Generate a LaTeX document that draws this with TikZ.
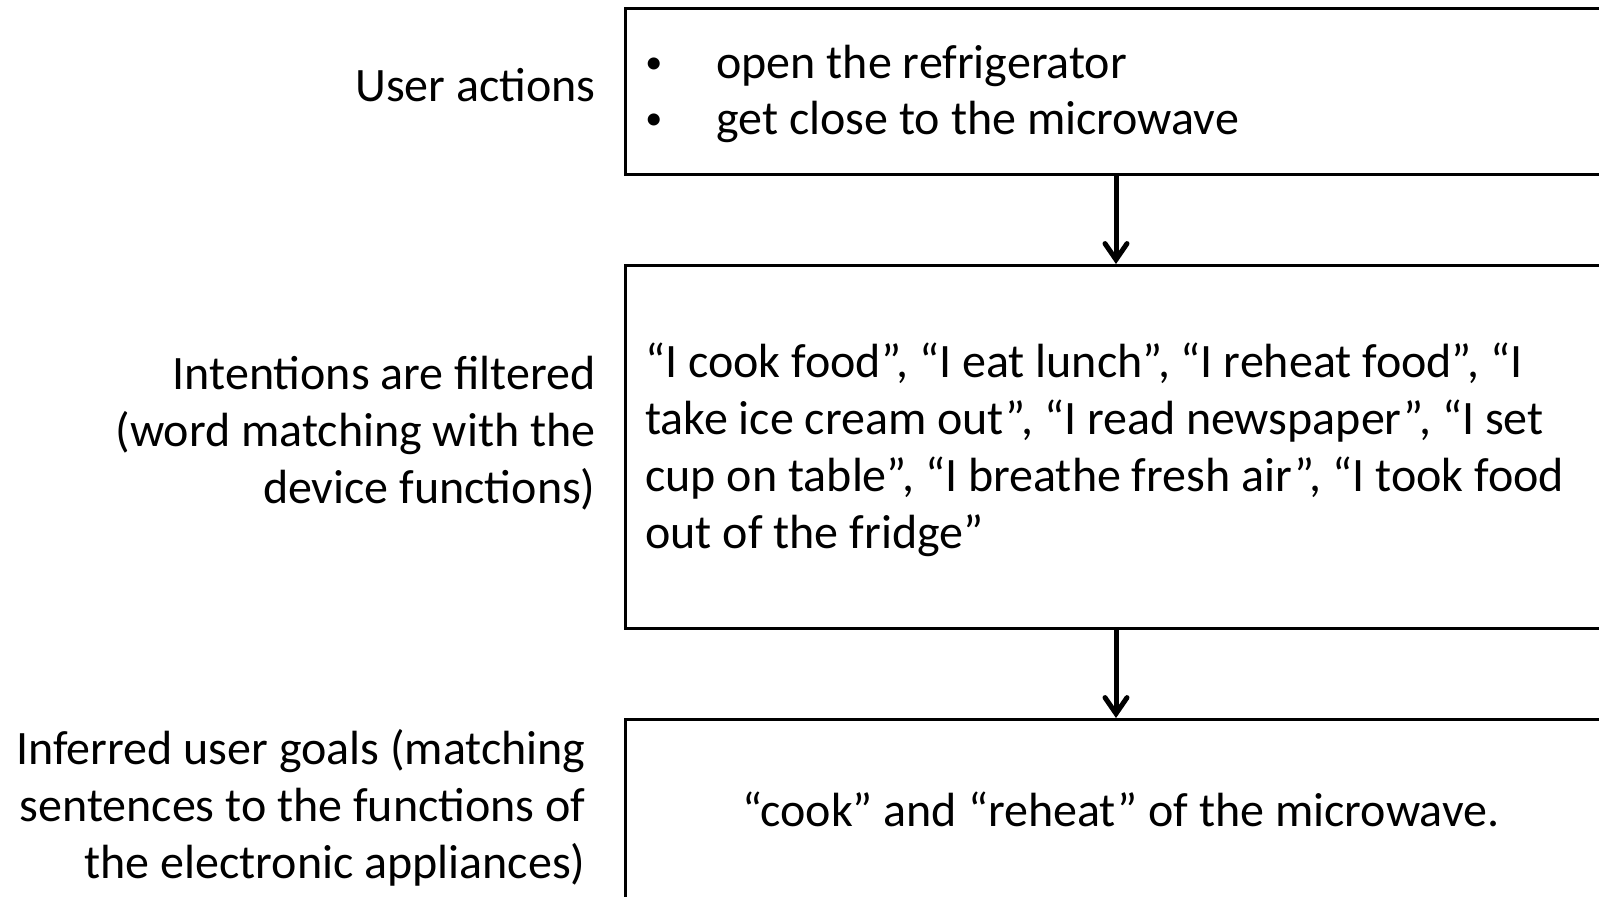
\documentclass[tikz,border=0pt]{standalone}
\usepackage{fontspec}
\setmainfont{Carlito}
\usetikzlibrary{arrows.meta}
\begin{document}
\begin{tikzpicture}[x=0.5pt,y=-0.5pt,
  box/.style={draw=black,line width=1.5pt,rectangle,inner sep=0pt,anchor=north west},
  txt/.style={inner sep=0pt,font=\fontsize{24}{28.5}\selectfont},
  lbl/.style={txt,align=right,anchor=east},
  bul/.style={inner sep=0pt,font=\fontsize{17}{17}\selectfont,anchor=west},
  arr/.style={line width=2.5pt,-{Straight Barb[length=8pt,width=11pt,line cap=round,line width=2.5pt]}}]
\useasboundingbox (0,0) rectangle (1599,896);
\clip (0,0) rectangle (1599,896);
% boxes
\node[box,minimum width=500pt,minimum height=83pt] (b1) at (624,7) {};
\node[box,minimum width=500pt,minimum height=181.5pt] (b2) at (624,264) {};
\node[box,minimum width=500pt,minimum height=120pt] (b3) at (624,718) {};
% connectors
\coordinate (ax) at (1116,0);
\draw[arr] (b1.south -| ax) -- (b2.north -| ax);
\draw[arr] (b2.south -| ax) -- (b3.north -| ax);
% left-hand labels
\node[lbl] (l1) at (596,85) {User actions};
\node[lbl] (l2) at (596,433) {Intentions are filtered\\(word matching with the\\device functions)};
\node[lbl] (l3) at (586,808) {Inferred user goals (matching\\sentences to the functions of\\the electronic appliances)};
% box contents
\node[bul] (d1) at (645,66) {•};
\node[bul] (d2) at (645,122) {•};
\node[txt,anchor=west] (a1) at (716,66) {open the refrigerator};
\node[txt,anchor=west] (a2) at (716,122) {get close to the microwave};
\node[txt,anchor=west,align=left] (i1) at (645,449.5) {“I cook food”, “I eat lunch”, “I reheat food”, “I\\take ice cream out”, “I read newspaper”, “I set\\cup on table”, “I breathe fresh air”, “I took food\\out of the fridge”};
\node[txt] (g1) at (1121,809) {“cook” and “reheat” of the microwave.};
\end{tikzpicture}
\end{document}
